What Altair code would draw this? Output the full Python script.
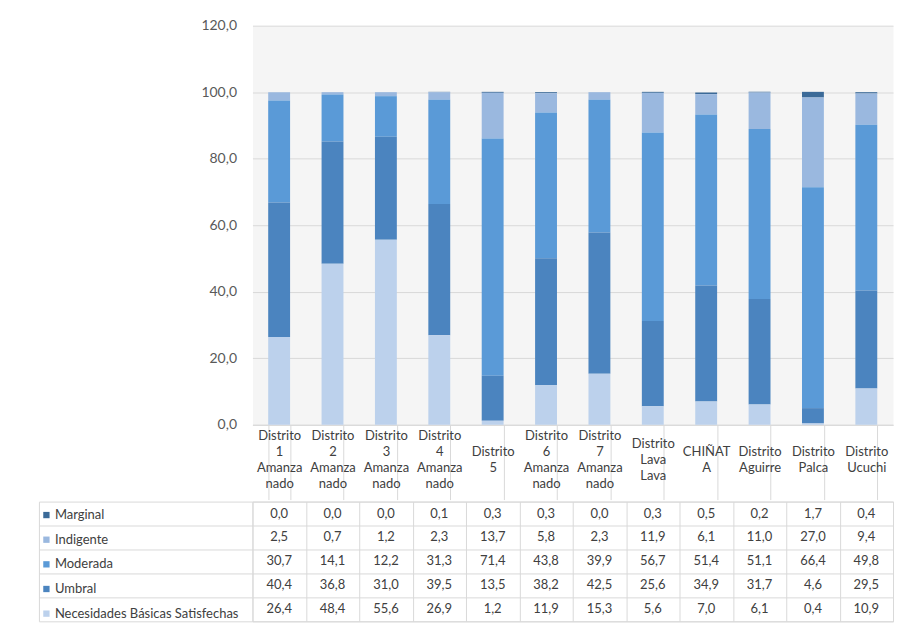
import altair as alt
import pandas as pd

categories = [
    "Distrito|1|Amanza|nado", "Distrito|2|Amanza|nado", "Distrito|3|Amanza|nado",
    "Distrito|4|Amanza|nado", "Distrito|5", "Distrito|6|Amanza|nado",
    "Distrito|7|Amanza|nado", "Distrito|Lava|Lava", "CHIÑAT|A",
    "Distrito|Aguirre", "Distrito|Palca", "Distrito|Ucuchi",
]
series = ["Marginal", "Indigente", "Moderada", "Umbral", "Necesidades Básicas Satisfechas"]

marginal = [0.0, 0.0, 0.0, 0.1, 0.3, 0.3, 0.0, 0.3, 0.5, 0.2, 1.7, 0.4]
indigente = [2.5, 0.7, 1.2, 2.3, 13.7, 5.8, 2.3, 11.9, 6.1, 11.0, 27.0, 9.4]
moderada = [30.7, 14.1, 12.2, 31.3, 71.4, 43.8, 39.9, 56.7, 51.4, 51.1, 66.4, 49.8]
umbral = [40.4, 36.8, 31.0, 39.5, 13.5, 38.2, 42.5, 25.6, 34.9, 31.7, 4.6, 29.5]
nbs = [26.4, 48.4, 55.6, 26.9, 1.2, 11.9, 15.3, 5.6, 7.0, 6.1, 0.4, 10.9]

colors = ["#3b6a98", "#9ab8df", "#5a9ad7", "#4b84bf", "#bcd1ec"]
stack_rank = [4, 3, 2, 1, 0]
y_ticks = [0, 20, 40, 60, 80, 100, 120]

rows = []
for s, vals, r in zip(series, [marginal, indigente, moderada, umbral, nbs], stack_rank):
    for c, v in zip(categories, vals):
        rows.append({"categoria": c, "serie": s, "valor": v, "orden": r})
df = pd.DataFrame(rows)

FONT = "Lato"
GRID = "#d9d9d9"
TXT = "#404040"
W = 642

nlines = "length(split(datum.value, '|'))"
label_pad = {
    "condition": [
        {"test": nlines + " == 2", "value": -48},
        {"test": nlines + " == 3", "value": -56},
    ],
    "value": -64,
}

bars = alt.Chart(df).mark_bar().encode(
    x=alt.X("categoria:N", sort=categories,
            scale=alt.Scale(paddingInner=0.59, paddingOuter=0.295),
            axis=alt.Axis(title=None, labelAngle=0, labelExpr="split(datum.label, '|')",
                          labelBaseline="middle", labelAlign="center", labelPadding=label_pad,
                          labelLineHeight=16, labelFontSize=13, labelColor=TXT, labelFont=FONT,
                          ticks=True, tickBand="extent", tickSize=75, tickColor=GRID,
                          domainColor=GRID, grid=False)),
    y=alt.Y("valor:Q", stack="zero", scale=alt.Scale(domain=[0, 120]),
            axis=alt.Axis(title=None, values=y_ticks,
                          labelExpr="replace(format(datum.value, '.1f'), '.', ',')",
                          ticks=False, domain=False, gridColor=GRID, labelPadding=16,
                          labelFontSize=14, labelColor="#595959", labelFont=FONT)),
    color=alt.Color("serie:N", sort=series,
                    scale=alt.Scale(domain=series, range=colors),
                    legend=alt.Legend(title=None, orient="none", legendX=-213, legendY=484,
                                      symbolType="square", symbolSize=40, symbolStrokeWidth=0,
                                      labelFont=FONT, labelFontSize=13, labelColor=TXT,
                                      rowPadding=10.7, labelLimit=300, labelOffset=2)),
    order=alt.Order("orden:Q", sort="ascending"),
).properties(width=W, height=400,
             view=alt.ViewBackground(fill="#f5f5f5", stroke="transparent"))

table_base = alt.Chart(df).transform_calculate(
    txt="replace(format(datum.valor, '.1f'), '.', ',')"
)
x_tab = alt.X("categoria:N", sort=categories, scale=alt.Scale(padding=0),
              axis=alt.Axis(title=None, labels=False, ticks=False, domain=False, grid=True,
                            tickBand="extent", gridColor=GRID))

table_text = table_base.mark_text(font=FONT, fontSize=13, color=TXT).encode(
    x=x_tab,
    y=alt.Y("serie:N", sort=series, scale=alt.Scale(padding=0),
            axis=alt.Axis(title=None, labels=False, domain=False, ticks=True, tickSize=214,
                          tickBand="extent", tickColor=GRID, grid=True, gridColor=GRID)),
    text="txt:N",
)
table_edge = table_base.mark_text(opacity=0).encode(
    x=x_tab,
    y=alt.Y("serie:N", sort=series, scale=alt.Scale(padding=0),
            axis=alt.Axis(title=None, orient="left", offset=214, labels=False, ticks=False,
                          grid=False, domain=True, domainColor=GRID)),
    text="txt:N",
)
table = alt.layer(table_text, table_edge).resolve_axis(y="independent").properties(
    width=W, height=120, view=alt.ViewBackground(fill="white", stroke=GRID))

chart = alt.vconcat(bars, table, spacing=0).properties(
    padding={"left": 30, "top": 9, "right": 1, "bottom": 5}
).configure(font=FONT)

chart.save("out.html", embed_options={"renderer": "svg", "actions": False})
